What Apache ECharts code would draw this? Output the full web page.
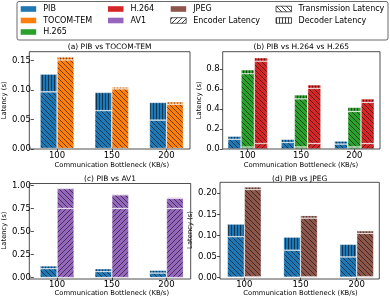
<!DOCTYPE html>
<html>
<head>
<meta charset="utf-8">
<script src="https://cdn.jsdelivr.net/npm/echarts@6/dist/echarts.min.js"></script>
<style>html,body{margin:0;padding:0;background:#fff}#c{width:390px;height:298px}</style>
</head>
<body>
<div id="c"></div>
<script>
// ---- data (seconds) ----
const categories = ['100', '150', '200'];
const PIB_enc   = [0.001, 0.001, 0.001];
const PIB_trans = [0.096, 0.064, 0.048];
const PIB_dec   = [0.030, 0.031, 0.030];
const TOCOM_enc   = [0.001, 0.001, 0.001];
const TOCOM_trans = [0.150, 0.101, 0.075];
const TOCOM_dec   = [0.005, 0.003, 0.004];
const H265_enc   = [0.020, 0.020, 0.020];
const H265_trans = [0.730, 0.480, 0.355];
const H265_dec   = [0.040, 0.040, 0.040];
const H264_enc   = [0.055, 0.055, 0.055];
const H264_trans = [0.820, 0.550, 0.410];
const H264_dec   = [0.035, 0.035, 0.035];
const AV1_enc   = [0.750, 0.750, 0.750];
const AV1_trans = [0.215, 0.147, 0.110];
const AV1_dec   = [0.010, 0.010, 0.010];
const JPEG_enc   = [0.002, 0.002, 0.002];
const JPEG_trans = [0.207, 0.139, 0.103];
const JPEG_dec   = [0.006, 0.006, 0.006];

const codecNames = ['PIB', 'TOCOM-TEM', 'H.265', 'H.264', 'AV1', 'JPEG'];
const latencyNames = ['Encoder Latency', 'Transmission Latency', 'Decoder Latency'];

const segs = {
  'PIB': {enc: PIB_enc, trans: PIB_trans, dec: PIB_dec},
  'TOCOM-TEM': {enc: TOCOM_enc, trans: TOCOM_trans, dec: TOCOM_dec},
  'H.265': {enc: H265_enc, trans: H265_trans, dec: H265_dec},
  'H.264': {enc: H264_enc, trans: H264_trans, dec: H264_dec},
  'AV1': {enc: AV1_enc, trans: AV1_trans, dec: AV1_dec},
  'JPEG': {enc: JPEG_enc, trans: JPEG_trans, dec: JPEG_dec}
};

// ---- styles / layout ----
const colors = {'PIB':'#1f77b4','TOCOM-TEM':'#ff7f0e','H.265':'#2ca02c','H.264':'#d62728','AV1':'#9467bd','JPEG':'#8c564b'};
const FONT = 'DejaVu Sans';

function makePattern(base, kind, ink) {
  const s = kind === 'dec' ? 3 : 5;
  const cv = document.createElement('canvas');
  cv.width = s; cv.height = s;
  const g = cv.getContext('2d');
  g.fillStyle = base; g.fillRect(0, 0, s, s);
  g.fillStyle = ink || 'rgba(0,0,0,0.55)';
  for (let i = 0; i < s; i++) {
    if (kind === 'dec') g.fillRect(0, i, 1, 1);
    else if (kind === 'trans') g.fillRect(i, i, 1, 1);
    else g.fillRect(s - 1 - i, i, 1, 1);
  }
  return {image: cv, repeat: 'repeat'};
}

// frame = visible axes box; axisLeft/axisWidth = category band extent (matplotlib-style margins)
const panels = [
  {title:'(a) PIB vs TOCOM-TEM', codecs:['PIB','TOCOM-TEM'], max:0.165, interval:0.05, digits:2,
   frame:{left:29.3, top:51.7, width:160.7, height:97.3}, axisLeft:25.2, axisWidth:168.6, barWidth:17, yGap:20, titleY:43},
  {title:'(b) PIB vs H.264 vs H.265', codecs:['PIB','H.265','H.264'], max:0.97, interval:0.2, digits:1,
   frame:{left:222.7, top:51.7, width:157.3, height:97.3}, axisLeft:221.0, axisWidth:160, barWidth:13.3, yGap:18, titleY:43},
  {title:'(c) PIB vs AV1', codecs:['PIB','AV1'], max:1.02, interval:0.25, digits:2,
   frame:{left:29.3, top:183.5, width:161.4, height:95.5}, axisLeft:25.2, axisWidth:168.6, barWidth:17, yGap:20, titleY:174.8},
  {title:'(d) PIB vs JPEG', codecs:['PIB','JPEG'], max:0.226, interval:0.05, digits:2,
   frame:{left:220, top:182.3, width:159.3, height:96.7}, axisLeft:216.2, axisWidth:168.6, barWidth:17, yGap:19.5, titleY:175.5}
];

const grid = [], xAxis = [], yAxis = [], series = [], title = [];
panels.forEach((p, i) => {
  const f = p.frame;
  grid.push({left:p.axisLeft, width:p.axisWidth, top:f.top, height:f.height});
  title.push({text:p.title, left:f.left + f.width / 2, top:p.titleY, textAlign:'center', padding:0,
    textStyle:{fontFamily:FONT, fontSize:7.5, fontWeight:'normal', color:'#000'}});
  xAxis.push({type:'category', gridIndex:i, data:categories,
    name:'Communication Bottleneck (KB/s)', nameLocation:'middle', nameGap:9.5,
    nameTextStyle:{fontFamily:FONT, fontSize:6.8, color:'#000'},
    axisLine:{show:false},
    axisTick:{show:true, alignWithLabel:true, length:3, lineStyle:{color:'#222', width:0.8}},
    axisLabel:{fontFamily:FONT, fontSize:8.5, color:'#000', margin:2.5}});
  yAxis.push({type:'value', gridIndex:i, min:0, max:p.max, interval:p.interval,
    offset:-(f.left - p.axisLeft),
    name:'Latency (s)', nameLocation:'middle', nameGap:p.yGap,
    nameTextStyle:{fontFamily:FONT, fontSize:6.8, color:'#000'},
    splitLine:{show:false},
    axisLine:{show:false},
    axisTick:{show:true, length:3, lineStyle:{color:'#222', width:0.8}},
    axisLabel:{fontFamily:FONT, fontSize:8.5, color:'#000', margin:3, showMaxLabel:false,
      formatter:v => v.toFixed(p.digits)}});
  p.codecs.forEach(c => {
    ['enc', 'trans', 'dec'].forEach(k => {
      series.push({type:'bar', name:c, xAxisIndex:i, yAxisIndex:i, stack:'s' + i + c,
        barWidth:p.barWidth, barGap:'0%', data:segs[c][k], silent:true,
        itemStyle:{color:makePattern(colors[c], k), borderColor:'rgba(255,255,255,0.45)', borderWidth:0.7}});
    });
  });
});
// frame grids (box only, no axes)
panels.forEach(p => {
  grid.push(Object.assign({show:true, borderColor:'#222', borderWidth:0.8, backgroundColor:'transparent', z:5}, p.frame));
});

// ---- legend drawn as graphic (column-major, 4 columns) ----
const legendItems = codecNames.map(n => ({label:n, fill:colors[n], plain:true}))
  .concat([
    {label:'Encoder Latency', kind:'enc'},
    {label:'Transmission Latency', kind:'trans'},
    {label:'Decoder Latency', kind:'dec'}
  ]);
const colX = [20.7, 108, 170.7, 276];
const rowY = [9, 20.5, 32];
const perCol = [3, 2, 2, 2];
const graphic = [{type:'rect', shape:{x:17, y:1.5, width:371, height:38.5, r:2},
  style:{fill:'#fff', stroke:'#444', lineWidth:0.8}, z:0}];
let idx = 0;
perCol.forEach((n, col) => {
  for (let r = 0; r < n; r++) {
    const it = legendItems[idx++];
    const x = colX[col], y = rowY[r];
    graphic.push({type:'rect', shape:{x:x, y:y - 2.8, width:15.5, height:5.6},
      style: it.plain ? {fill:it.fill} : {fill:makePattern('#ffffff', it.kind, 'rgba(0,0,0,0.75)'), stroke:'#333', lineWidth:0.8}, z:1});
    graphic.push({type:'text', x:x + 22.5, y:y, style:{text:it.label, fontFamily:FONT, fontSize:8,
      fill:'#000', verticalAlign:'middle', textAlign:'left'}, z:1});
  }
});

const chart = echarts.init(document.getElementById('c'), null, {renderer:'canvas'});
chart.setOption({animation:false, backgroundColor:'#fff', title, grid, xAxis, yAxis, series, graphic});
</script>
</body>
</html>
